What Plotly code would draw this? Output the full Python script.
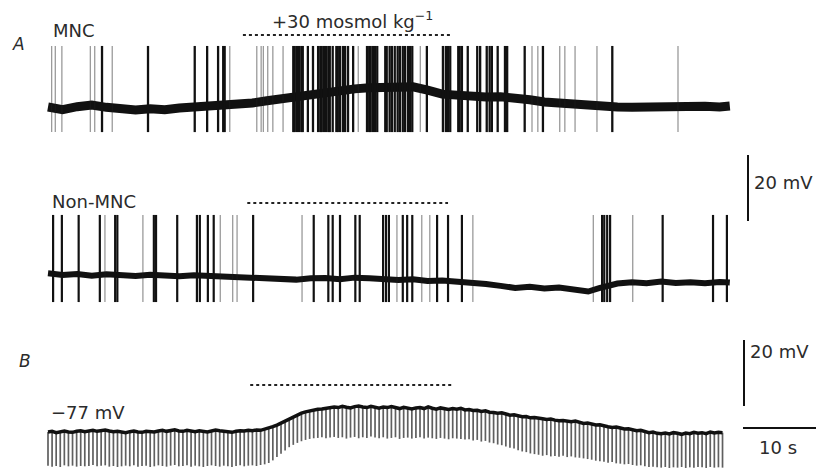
import plotly.graph_objects as go

# ---------------- data ----------------
# MNC trace: slow baseline readings (time s, mV relative to rest)
mnc_base_t = [0, 2, 4, 6, 8, 10, 12, 14, 16, 18, 20, 22, 24, 26, 28, 30, 32, 34, 36, 38, 40,
              42, 44, 46, 48, 50, 52, 54, 56, 58, 60, 62, 64, 66, 68, 70, 72, 74, 76, 78, 80,
              82, 84, 86, 88, 90, 92, 93.4]
mnc_base_v = [0.3, -0.5, 0.4, 0.9, 0.2, -0.4, -0.6, -0.2, -0.5, 0.0, 0.3, 0.5, 0.8, 0.9, 1.5,
              2.2, 2.9, 3.6, 4.3, 5.0, 5.5, 5.8, 6.1, 6.3, 6.5, 6.4, 5.4, 4.2, 3.9, 3.5, 3.3,
              3.4, 3.2, 2.5, 1.8, 1.4, 1.0, 0.8, 0.4, 0.3, 0.2, 0.3, 0.6, 0.4, 0.2, 0.5, 0.3, 0.6]
mnc_spikes_strong = [7.4, 13.7, 20.1, 21.8, 23.3, 24.0, 24.2, 33.6, 33.8, 34.1, 34.4, 34.7, 34.9,
                     35.6, 36.3, 37.0, 37.3, 37.5, 37.8, 38.1, 38.4, 38.6, 39.0, 39.5, 39.7,
                     40.0, 40.4, 40.7, 41.1, 41.8, 43.7, 44.0, 44.2, 44.5, 44.8, 45.1, 46.2,
                     46.4, 46.8, 47.1, 47.5, 47.9, 48.2, 48.6, 48.9, 49.3, 49.6, 49.9, 51.9,
                     54.1, 54.5, 54.8, 55.1, 56.2, 56.4, 56.7, 57.5, 58.8, 59.2, 60.1, 60.5,
                     60.8, 61.6, 62.6, 62.9, 65.3, 67.8, 77.3]
mnc_spikes_faint = [0.5, 1.0, 1.9, 5.8, 6.4, 8.8, 24.9, 28.6, 29.2, 29.5, 30.1, 30.8, 32.2,
                    42.5, 51.0, 66.3, 67.1, 70.1, 70.8, 72.2, 75.2, 86.3]
mnc_spike_peak, mnc_spike_trough = 18.8, -7.3

# Non-MNC trace
non_base_t = [0, 2, 4, 6, 8, 10, 12, 14, 16, 18, 20, 22, 24, 26, 28, 30, 32, 34, 36, 38, 40,
              42, 44, 46, 48, 50, 52, 54, 56, 58, 60, 62, 64, 66, 68, 70, 72, 74, 75.5, 78, 80,
              82, 84, 86, 88, 90, 92, 93.4]
non_base_v = [0.5, 0.0, 0.3, -0.2, 0.2, 0.0, -0.3, 0.1, -0.2, -0.4, -0.1, -0.3, -0.6, -0.4,
              -0.8, -0.9, -1.2, -1.4, -1.0, -0.9, -1.3, -0.8, -1.0, -1.4, -1.5, -1.3, -1.8,
              -1.7, -2.0, -2.1, -2.7, -3.3, -3.9, -3.6, -4.1, -3.8, -4.4, -5.0, -4.0, -2.6,
              -2.2, -2.5, -2.0, -2.4, -2.2, -2.5, -2.1, -2.3]
non_spikes_strong = [0.7, 1.9, 4.2, 7.1, 9.2, 9.5, 14.5, 14.8, 17.7, 20.4, 20.8, 21.9, 22.7,
                     28.1, 36.4, 38.4, 39.0, 40.0, 42.1, 42.7, 45.9, 46.3, 46.7, 48.6, 49.2,
                     49.9, 53.3, 54.8, 56.7, 75.9, 76.2, 76.6, 77.0, 84.2, 91.1, 93.0]
non_spikes_faint = [7.8, 13.0, 23.6, 25.3, 25.9, 34.8, 47.8, 51.2, 52.3, 58.2, 74.7, 80.1]
non_spike_peak, non_spike_trough = 18.2, -8.2

# B trace: one reading per current pulse (membrane level and pulse tip, mV rel. to -77 mV)
b_pulse_period_s = 0.56
b_level = [0.0, 0.2, -0.2, 0.1, 0.3, 0.0, -0.1, 0.2, 0.4, 0.1,
           0.3, 0.5, 0.2, 0.4, 0.6, 0.3, 0.1, 0.2, 0.0, -0.2,
           0.1, 0.3, 0.0, -0.1, 0.2, 0.1, 0.0, 0.3, 0.5, 0.2,
           0.4, 0.7, 0.3, 0.2, 0.5, 0.3, 0.1, 0.4, 0.2, 0.0,
           0.3, 0.6, 0.4, 0.2, 0.1, -0.1, 0.2, 0.4, 0.3, 0.5,
           0.4, 0.6, 0.5, 0.8, 1.2, 1.6, 2.1, 2.7, 3.3, 4.0,
           4.6, 5.2, 5.7, 6.1, 6.4, 6.6, 6.9, 7.0, 7.2, 7.3,
           7.6, 7.4, 7.8, 7.5, 7.3, 7.7, 7.9, 7.6, 7.4, 7.8,
           7.5, 7.2, 7.6, 7.4, 7.7, 7.3, 7.1, 7.5, 7.2, 7.0,
           7.3, 7.4, 7.1, 7.6, 7.2, 6.9, 7.3, 7.0, 6.8, 7.1,
           6.9, 7.2, 6.7, 6.8, 6.5, 6.6, 6.2, 6.4, 6.0, 5.9,
           5.7, 5.8, 5.4, 5.1, 5.2, 4.8, 4.6, 4.7, 4.3, 4.4,
           4.1, 4.0, 3.8, 3.9, 3.6, 3.4, 3.5, 3.2, 3.1, 3.3,
           2.9, 2.6, 2.7, 2.3, 2.1, 2.2, 1.8, 1.6, 1.4, 1.5,
           1.2, 0.9, 1.0, 0.6, 0.4, 0.5, 0.1, -0.2, 0.0, -0.4,
           -0.5, -0.3, -0.6, -0.2, -0.4, -0.7, -0.3, -0.5, -0.1, -0.4,
           -0.2, -0.5, 0.0, -0.3, -0.1, -0.2]
b_tip = [-10.2, -10.5, -10.3, -10.6, -10.1, -10.4, -10.2, -10.5, -10.3, -10.4,
         -10.3, -10.0, -10.4, -10.2, -10.1, -10.5, -10.3, -10.6, -10.4, -10.2,
         -10.4, -10.1, -10.5, -10.3, -10.2, -10.6, -10.4, -10.1, -10.3, -10.5,
         -10.2, -10.0, -10.4, -10.3, -10.1, -10.5, -10.2, -10.4, -10.6, -10.3,
         -10.1, -10.3, -10.5, -10.2, -10.4, -10.6, -10.3, -10.1, -10.4, -10.2,
         -10.1, -10.3, -10.0, -9.8, -9.4, -8.6, -7.6, -6.6, -5.6, -4.6,
         -3.9, -3.3, -2.8, -2.4, -2.1, -1.9, -1.8, -1.6, -1.9, -1.7,
         -1.5, -1.8, -1.6, -2.0, -1.7, -1.5, -1.9, -1.6, -1.8, -1.4,
         -1.7, -1.9, -1.6, -2.0, -1.8, -1.6, -2.1, -1.8, -1.7, -2.0,
         -1.8, -1.6, -2.0, -1.7, -1.9, -2.1, -1.8, -2.0, -2.2, -1.9,
         -2.0, -2.1, -2.3, -2.2, -2.6, -2.4, -2.9, -2.7, -3.2, -3.4,
         -3.8, -4.0, -4.4, -4.8, -5.0, -5.5, -5.9, -6.1, -6.5, -6.7,
         -6.9, -7.2, -7.0, -7.4, -7.3, -7.5, -7.2, -7.6, -7.4, -7.7,
         -7.8, -8.0, -8.2, -8.4, -8.7, -8.9, -9.0, -9.3, -9.1, -9.5,
         -9.6, -9.8, -9.7, -10.0, -10.2, -10.1, -10.4, -10.6, -10.5, -10.7,
         -10.8, -10.6, -10.9, -10.7, -10.8, -10.6, -10.9, -10.7, -10.8, -10.6,
         -10.7, -10.9, -10.6, -10.8, -10.7, -10.8]

# hyperosmotic application periods (s) for each record
mnc_osm = [26.7, 55.1]
non_osm = [27.3, 54.8]
b_osm = [27.7, 55.3]

# scale bars
scale_mv = 20
scale_s = 10

# ---------------- layout constants ----------------
W, H = 816, 468
PX_PER_S, PX_PER_MV, T0_PX = 7.3, 3.3, 48
MNC_OFF = -108 / PX_PER_MV
NON_OFF = -275 / PX_PER_MV
B_OFF = -432 / PX_PER_MV
INK = "#111111"
FAINT = "rgba(30,30,30,0.45)"
TXT = "#2b2b2b"
FONT = "DejaVu Sans"


def px2paper(x, y):
    return x / W, 1 - y / H


def spike_xy(times, off, peak, trough):
    xs, ys = [], []
    for t in times:
        xs += [t, t, None]
        ys += [off + peak, off + trough, None]
    return xs, ys


fig = go.Figure()


def add_line(x, y, color, width, dash=None):
    fig.add_trace(go.Scatter(x=x, y=y, mode="lines", hoverinfo="skip", showlegend=False,
                             line=dict(color=color, width=width, dash=dash)))


# MNC
add_line(mnc_base_t, [MNC_OFF + v for v in mnc_base_v], INK, 9)
sx, sy = spike_xy(mnc_spikes_faint, MNC_OFF, mnc_spike_peak, mnc_spike_trough)
add_line(sx, sy, FAINT, 1.3)
sx, sy = spike_xy(mnc_spikes_strong, MNC_OFF, mnc_spike_peak, mnc_spike_trough)
add_line(sx, sy, INK, 2.3)

# Non-MNC
add_line(non_base_t, [NON_OFF + v for v in non_base_v], INK, 6)
sx, sy = spike_xy(non_spikes_faint, NON_OFF, non_spike_peak, non_spike_trough)
add_line(sx, sy, FAINT, 1.3)
sx, sy = spike_xy(non_spikes_strong, NON_OFF, non_spike_peak, non_spike_trough)
add_line(sx, sy, INK, 2.2)

# B
b_t = [k * b_pulse_period_s for k in range(len(b_level))]
px_, py_ = [], []
for t, lv, tp in zip(b_t, b_level, b_tip):
    px_ += [t, t, None]
    py_ += [B_OFF + lv, B_OFF + tp, None]
add_line(px_, py_, "#5f5f5f", 1.7)
add_line(b_t, [B_OFF + v for v in b_level], INK, 3.5)

# application bars (dotted)
add_line(mnc_osm, [-35 / PX_PER_MV] * 2, "#222222", 2, "dot")
add_line(non_osm, [-203 / PX_PER_MV] * 2, "#222222", 2, "dot")
add_line(b_osm, [-385 / PX_PER_MV] * 2, "#222222", 2, "dot")

# scale bars
xa = (748 - T0_PX) / PX_PER_S
ya = -155 / PX_PER_MV
add_line([xa, xa], [ya, ya - scale_mv], INK, 2)
xb = (744 - T0_PX) / PX_PER_S
yb = -340 / PX_PER_MV
add_line([xb, xb], [yb, yb - scale_mv], INK, 2)
xt = (743 - T0_PX) / PX_PER_S
yt = -428 / PX_PER_MV
add_line([xt, xt + scale_s], [yt, yt], INK, 2)

# text
labels = [
    ("A", 10, 44, 17, "italic"),
    ("MNC", 51, 31, 18, "normal"),
    ("+30 mosmol kg<sup>−1</sup>", 270, 20, 18, "normal"),
    ("Non-MNC", 50, 201, 18, "normal"),
    ("20 mV", 752, 183, 18, "normal"),
    ("B", 17, 361, 17, "italic"),
    ("−77 mV", 49, 412, 18, "normal"),
    ("20 mV", 748, 351, 18, "normal"),
    ("10 s", 757, 447, 18, "normal"),
]
for txt, x, y, size, style in labels:
    ax, ay = px2paper(x, y)
    fig.add_annotation(text=txt, x=ax, y=ay, xref="paper", yref="paper",
                       xanchor="left", yanchor="middle", showarrow=False,
                       font=dict(family=FONT, size=size, color=TXT, style=style))

fig.update_layout(
    width=W, height=H, margin=dict(l=0, r=0, t=0, b=0),
    paper_bgcolor="white", plot_bgcolor="white",
    xaxis=dict(range=[-T0_PX / PX_PER_S, (W - T0_PX) / PX_PER_S], visible=False, fixedrange=True),
    yaxis=dict(range=[-H / PX_PER_MV, 0], visible=False, fixedrange=True),
)
fig.write_html("out.html", config={"displayModeBar": False},
               post_script="document.body.style.margin='0';document.body.style.overflow='hidden';")
